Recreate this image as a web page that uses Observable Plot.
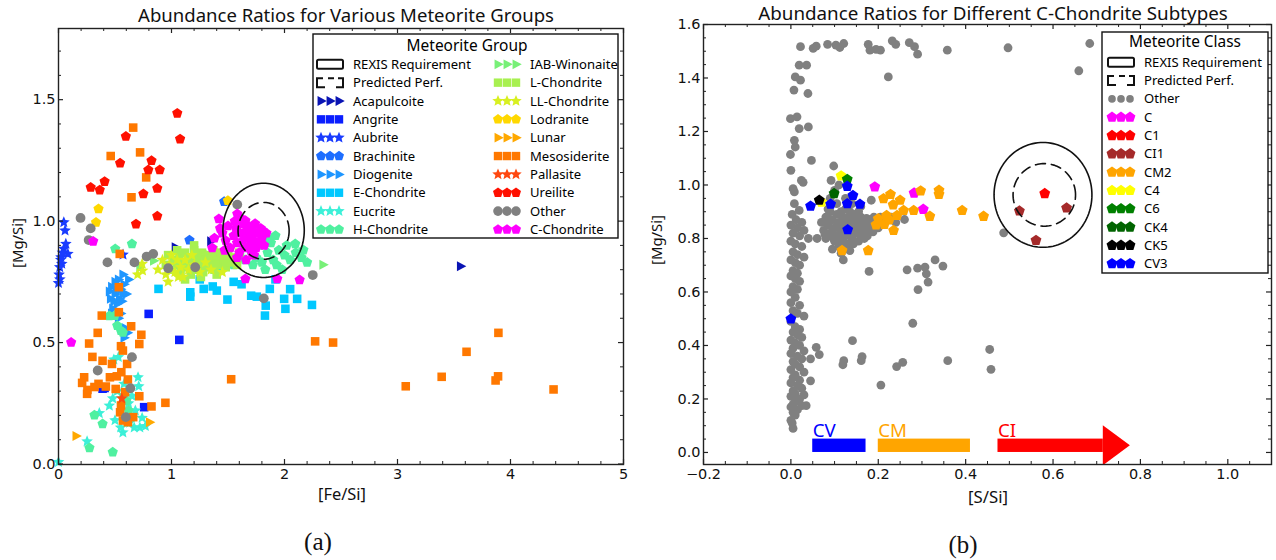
<!DOCTYPE html>
<html><head><meta charset="utf-8">
<script src="https://cdn.jsdelivr.net/npm/d3@7"></script>
<script src="https://cdn.jsdelivr.net/npm/@observablehq/plot@0.6"></script>
<style>
body{margin:0;background:#fff;}
#root{position:relative;width:1276px;height:560px;overflow:hidden;font-family:"Noto Sans",sans-serif;color:#111;}
.lbl{position:absolute;white-space:nowrap;transform:translate(-50%,-50%);line-height:1;}
.plot{position:absolute;top:0;}
#legend{position:absolute;left:0;top:0;pointer-events:none;}
</style></head><body><div id="root"></div>
<script>
const FONT = '"Noto Sans",sans-serif';
const TICKFONT = '"DejaVu Sans",sans-serif';

// ---------------- Panel (a) data: [Fe/Si, Mg/Si] ----------------
const acapulcoite = [[1.033,0.892],[1.347,0.917],[3.557,0.814]];
const angrite = [[0.798,0.618],[1.069,0.511],[0.408,0.313],[0.758,0.234],[0.39,0.31]];
const aubrite = [[0.047,0.995],[0.058,0.961],[0.065,0.906],[0.047,0.886],[0.083,0.865],[0.022,0.851],[0.029,0.824],[0.011,0.81],[0.005,0.78],[0.012,0.76],[0.0,0.745],[0.02,0.84],[0.035,0.87],[0.571,0.862]];
const brachinite = [[1.159,0.922],[1.466,1.080]];
const diogenite = [[0.46,0.68],[0.50,0.70],[0.55,0.72],[0.52,0.66],[0.58,0.74],[0.48,0.64],[0.55,0.62],[0.60,0.70],[0.50,0.75],[0.57,0.78],[0.62,0.76],[0.45,0.71],[0.53,0.60],[0.56,0.67],[0.59,0.56],[0.58,0.52],[0.61,0.54],[0.47,0.73],[0.54,0.68],[0.51,0.72],[0.49,0.67],[0.57,0.70],[0.53,0.76],[0.47,0.62]];
const eChondrite = [[0.885,0.721],[1.166,0.707],[1.166,0.689],[1.285,0.721],[1.365,0.731],[1.401,0.714],[1.495,0.677],[1.705,0.693],[1.755,0.689],[1.834,0.652],[1.827,0.611],[1.870,0.721],[1.997,0.680],[2.008,0.639],[2.112,0.680],[2.243,0.655],[1.55,0.75],[1.62,0.74],[1.92,0.76],[2.05,0.72],[1.25,0.76]];
const eucrite = [[0.45,0.24],[0.52,0.30],[0.57,0.27],[0.62,0.25],[0.68,0.22],[0.704,0.357],[0.71,0.32],[0.63,0.17],[0.67,0.15],[0.72,0.15],[0.769,0.156],[0.55,0.15],[0.60,0.19],[0.50,0.18],[0.361,0.209],[0.253,0.093],[0.0,0.008],[0.48,0.27],[0.58,0.33],[0.65,0.28],[0.74,0.19],[0.53,0.44],[0.49,0.43],[0.57,0.13]];
const hChondrite = [[0.552,0.549],[0.570,0.542],[0.498,0.611],[0.318,0.201],[0.390,0.165],[0.274,0.066],[0.480,0.049],[0.502,0.886],[0.650,0.906],[2.095,0.906],[2.167,0.881],[0.60,0.26],[0.62,0.22],[0.58,0.28],[0.45,0.61],[0.52,0.57],
  [1.60,0.86],[1.65,0.84],[1.70,0.88],[1.72,0.82],[1.75,0.85],[1.78,0.90],[1.80,0.83],[1.83,0.80],[1.85,0.87],[1.88,0.91],[1.90,0.84],[1.93,0.82],[1.95,0.88],[1.98,0.80],[2.00,0.86],[2.02,0.90],[2.05,0.84],[2.10,0.87],[2.15,0.85],[1.55,0.82],[1.48,0.84],[1.40,0.80],[1.30,0.86],[1.85,0.93],[1.92,0.94],[2.20,0.83]];
const iabWinonaite = [[0.841,0.837],[2.34,0.820],[0.72,0.81]];
const lChondrite = [[1.00,0.80],[1.02,0.84],[1.05,0.82],[1.07,0.86],[1.08,0.79],[1.10,0.83],[1.12,0.87],[1.13,0.81],[1.15,0.85],[1.17,0.78],[1.18,0.83],[1.20,0.88],[1.22,0.80],[1.23,0.85],[1.25,0.82],[1.27,0.87],[1.28,0.79],[1.30,0.84],[1.32,0.81],[1.33,0.86],[1.35,0.83],[1.37,0.88],[1.38,0.80],[1.40,0.85],[1.42,0.82],[1.44,0.87],[1.46,0.84],[1.48,0.81],[1.50,0.86],[1.52,0.83],[1.55,0.85],[1.58,0.82],[0.95,0.82],[0.97,0.86],[1.12,0.76],[1.26,0.77],[1.40,0.78],[1.60,0.87],[1.05,0.88],[1.20,0.90]];
const llChondrite = [[0.88,0.80],[0.92,0.84],[0.95,0.78],[0.98,0.82],[1.00,0.86],[1.03,0.79],[1.05,0.84],[1.08,0.81],[1.10,0.77],[1.12,0.84],[1.15,0.80],[1.18,0.86],[1.20,0.82],[1.25,0.79],[1.30,0.83],[0.740,0.824],[0.744,0.796],[0.70,0.78],[1.35,0.80],[1.45,0.79],[0.97,0.75],[1.06,0.77]];
const lodranite = [[0.354,1.050],[0.332,0.995],[1.499,1.084]];
const lunar = [[0.155,0.115],[0.805,0.172]];
const mesosiderite = [[0.661,1.385],[0.462,1.268],[0.722,1.283],[0.776,1.180],[0.646,1.098],[0.542,0.865],[0.534,0.728],[0.383,0.611],[0.534,0.625],[0.347,0.540],[0.271,0.496],[0.300,0.441],[0.390,0.425],[0.473,0.412],[0.643,0.567],[0.733,0.532],[0.715,0.494],[0.553,0.485],[0.570,0.467],[0.607,0.412],[0.227,0.357],[0.209,0.334],[0.256,0.305],[0.253,0.289],[0.318,0.317],[0.354,0.330],[0.419,0.319],[0.455,0.357],[0.516,0.361],[0.556,0.378],[0.614,0.348],[0.506,0.309],[0.589,0.296],[0.715,0.279],[0.553,0.241],[0.545,0.213],[0.570,0.179],[0.661,0.193],[0.614,0.172],[0.823,0.237],[0.946,0.252],[1.528,0.349],[2.271,0.505],[2.430,0.500],[3.073,0.320],[3.391,0.359],[3.611,0.462],[3.893,0.540],[3.890,0.361],[3.868,0.344],[4.381,0.307]];
const pallasite = [[0.56,0.27]];
const ureilite = [[1.051,1.444],[1.076,1.338],[0.596,1.349],[0.545,1.239],[0.408,1.163],[0.285,1.139],[0.365,1.128],[0.823,1.249],[0.795,1.211],[0.896,1.211],[0.874,1.135],[0.751,1.112],[0.686,0.988],[0.874,1.020]];
const otherA = [[0.195,1.013],[0.285,0.970],[0.267,0.922],[0.433,0.830],[0.672,0.830],[0.780,0.854],[0.838,0.865],[0.971,0.806],[1.210,0.810],[1.582,1.068],[2.250,0.778],[1.817,0.682],[0.650,0.440],[0.347,0.385],[0.636,0.312],[0.596,0.193]];
const cChondrite = [[1.419,1.009],[1.582,1.030],[1.654,1.002],[1.809,0.961],[0.307,0.917],[1.654,0.762],[1.936,0.762],[2.134,0.758],[0.112,0.501],[1.45,0.95],[1.48,0.92],[1.50,0.98],[1.52,0.89],[1.55,0.94],[1.57,0.97],[1.58,0.91],[1.60,0.87],[1.61,0.95],[1.62,0.99],[1.63,0.92],[1.65,0.89],[1.66,0.96],[1.67,0.93],[1.68,0.98],[1.69,0.90],[1.70,0.94],[1.71,0.87],[1.72,0.96],[1.73,0.92],[1.74,0.99],[1.75,0.89],[1.76,0.95],[1.78,0.91],[1.79,0.97],[1.80,0.93],[1.82,0.90],[1.84,0.95],[1.62,1.01],[1.56,1.00],[1.43,0.97],[1.47,0.88],[1.58,0.85],[1.66,0.84],[1.73,0.86],[1.38,0.93],[1.36,0.89]];

const groupNamesA = ["Acapulcoite","Angrite","Aubrite","Brachinite","Diogenite","E-Chondrite","Eucrite","H-Chondrite","IAB-Winonaite","L-Chondrite","LL-Chondrite","Lodranite","Lunar","Mesosiderite","Pallasite","Ureilite","Other","C-Chondrite"];
const groupDataA = [acapulcoite,angrite,aubrite,brachinite,diogenite,eChondrite,eucrite,hChondrite,iabWinonaite,lChondrite,llChondrite,lodranite,lunar,mesosiderite,pallasite,ureilite,otherA,cChondrite];
const groupColorsA = ["#0a14b4","#0a1eff","#1a3cff","#1e6eff","#1e96ff","#00c8ff","#3cf0d8","#50f0a0","#78f078","#a8f050","#d8f020","#ffd800","#ffa800","#ff7800","#ff4810","#ff1000","#808080","#ff00ff"];
const groupShapesA = ["tri","square","star","pent","tri","square","star","pent","tri","square","star","pent","tri","square","star","pent","circle","pent"];

// ---------------- Panel (b) data: [S/Si, Mg/Si] ----------------
const otherB = [[0.022,1.517],[0.051,1.511],[0.058,1.519],[0.084,1.526],[0.103,1.523],[0.112,1.514],[0.121,1.529],[0.177,1.526],[0.181,1.504],[0.195,1.507],[0.205,1.504],[0.232,1.539],[0.240,1.526],[0.271,1.532],[0.283,1.517],[0.290,1.489],[0.358,1.504],[0.497,1.513],[0.684,1.529],[0.659,1.427],[0.223,1.404],
  [0.022,1.392],[0.010,1.404],[0.019,1.448],[0.036,1.448],[0.007,1.355],[0.039,1.342],[-0.001,1.248],[0.014,1.255],[0.019,1.211],[0.040,1.217],[0.008,1.167],[0.010,1.142],[-0.001,1.114],[0.047,1.092],[0.0,1.055],[0.024,1.017],[0.028,1.010],[0.005,0.986],[0.008,0.974],[0.008,0.930],[0.019,0.905],[0.003,0.89],[0.012,0.87],[0.025,0.86],[0.0,0.85],[0.015,0.84],[0.03,0.83],[0.005,0.82],[0.02,0.81],[0.04,0.80],[0.06,0.80],[0.0,0.79],[0.01,0.78],[0.025,0.77],[0.005,0.75],[0.015,0.74],[0.03,0.73],[0.0,0.72],[0.01,0.71],[0.02,0.70],[0.005,0.68],[0.015,0.67],[0.0,0.66],[0.01,0.65],[0.02,0.64],[0.005,0.62],[0.015,0.61],[0.0,0.60],
  [0.01,0.58],[0.0,0.56],[0.02,0.55],[0.005,0.53],[0.015,0.52],[0.03,0.51],[0.0,0.49],[0.01,0.47],[0.02,0.46],[0.005,0.45],[0.015,0.44],[0.025,0.43],[0.0,0.42],[0.01,0.41],[0.02,0.40],[0.005,0.39],[0.03,0.38],[0.0,0.37],[0.015,0.36],[0.025,0.35],[0.005,0.34],[0.01,0.33],[0.02,0.32],[0.0,0.31],[0.03,0.30],[0.01,0.29],[0.005,0.28],[0.02,0.27],[0.0,0.26],[0.015,0.25],[0.025,0.24],[0.005,0.23],[0.01,0.22],[0.03,0.215],[0.0,0.21],[0.02,0.20],[0.01,0.19],[0.005,0.18],[0.025,0.175],[0.035,0.175],[0.0,0.17],[0.015,0.16],[0.005,0.15],[0.01,0.14],[0.0,0.12],[0.003,0.11],[0.005,0.09],
  [0.07,0.86],[0.075,0.83],[0.08,0.88],[0.08,0.80],[0.085,0.85],[0.09,0.82],[0.09,0.90],[0.095,0.87],[0.1,0.84],[0.1,0.79],[0.105,0.81],[0.105,0.89],[0.11,0.86],[0.11,0.77],[0.115,0.83],[0.12,0.80],[0.12,0.88],[0.125,0.85],[0.125,0.91],[0.13,0.82],[0.13,0.78],[0.135,0.87],[0.14,0.84],[0.14,0.80],[0.145,0.89],[0.15,0.86],[0.15,0.82],[0.155,0.79],[0.16,0.85],[0.16,0.88],[0.165,0.83],[0.17,0.86],[0.175,0.81],[0.18,0.87],[0.185,0.84],[0.19,0.88],[0.195,0.85],[0.2,0.87],[0.21,0.86],[0.095,0.76],[0.115,0.745],[0.135,0.755],[0.12,0.72],[0.085,0.91],[0.105,0.93],[0.125,0.95],[0.09,0.95],[0.1,0.98],[0.11,1.0],[0.14,0.93],[0.16,0.92],[0.23,0.88],[0.24,0.86],[0.092,1.017],[0.098,1.071],
  [0.078,0.815],[0.088,0.865],[0.097,0.835],[0.107,0.855],[0.113,0.805],[0.118,0.865],[0.123,0.825],[0.128,0.875],[0.133,0.845],[0.138,0.805],[0.143,0.865],[0.147,0.835],[0.153,0.875],[0.158,0.815],[0.163,0.865],[0.168,0.845],[0.173,0.875],[0.178,0.835],[0.183,0.855],[0.188,0.825],[0.108,0.785],[0.123,0.775],[0.143,0.78],[0.115,0.9],[0.135,0.9],[0.155,0.9],[0.098,0.8],[0.168,0.8],[0.2,0.84],[0.205,0.88],
  [0.291,0.609],[0.314,0.637],[0.279,0.483],[0.058,0.393],[0.065,0.366],[0.045,0.350],[0.141,0.418],[0.121,0.343],[0.119,0.328],[0.163,0.358],[0.161,0.343],[0.242,0.321],[0.256,0.337],[0.206,0.252],[0.359,0.343],[0.455,0.385],[0.458,0.311],[0.045,0.268],
  [0.330,0.720],[0.307,0.693],[0.310,0.668],[0.290,0.689],[0.266,0.683],[0.348,0.697],[0.179,0.677],[0.260,0.871],[0.184,0.943],[0.487,0.821]];
const classC = [[0.192,0.993],[0.282,0.970],[0.303,0.909]];
const classC1 = [[0.581,0.968]];
const classCI1 = [[0.523,0.903],[0.631,0.914],[0.561,0.793]];
const classCM2 = [[0.117,0.755],[0.177,0.755],[0.195,0.851],[0.200,0.874],[0.212,0.949],[0.228,0.965],[0.219,0.886],[0.234,0.926],[0.235,0.830],[0.243,0.886],[0.250,0.943],[0.258,0.905],[0.281,0.905],[0.297,0.978],[0.318,0.883],[0.339,0.980],[0.339,0.965],[0.392,0.905],[0.441,0.883],[0.214,0.853],[0.225,0.870]];
const classC4 = [[0.115,1.034],[0.070,0.936]];
const classC6 = [[0.129,1.021]];
const classCK4 = [[0.099,0.968]];
const classCK5 = [[0.065,0.943]];
const classCV3 = [[0.045,0.921],[0.091,0.928],[0.129,0.995],[0.142,0.961],[0.129,0.930],[0.158,0.928],[0.130,0.833],[0.0,0.499]];

const classNamesB = ["Other","C","C1","CI1","CM2","C4","C6","CK4","CK5","CV3"];
const classDataB = [otherB,classC,classC1,classCI1,classCM2,classC4,classC6,classCK4,classCK5,classCV3];
const classColorsB = ["#808080","#ff00ff","#ff0000","#a52a2a","#ffa500","#ffff00","#008000","#006400","#000000","#0000ff"];

// REXIS ellipses (center, semi-axes in data units)
const ellipseNames = ["REXIS Requirement","Predicted Perf."];
const ellipseCenterA = [[1.815,0.962],[1.815,0.960]];
const ellipseRadiiA = [[0.360,0.194],[0.226,0.117]];
const ellipseCenterB = [[0.577,0.963],[0.580,0.963]];
const ellipseRadiiB = [[0.112,0.196],[0.0715,0.117]];

// Subtype S/Si ranges (panel b annotation)
const rangeNames = ["CV","CM","CI"];
const rangeStart = [0.05,0.20,0.474];
const rangeEnd = [0.172,0.411,0.715];
const rangeColors = ["#0000ff","#ffa500","#ff0000"];
const arrowTipCI = 0.777;

// Axis ticks
const xTicksA = [0,1,2,3,4,5];
const yTicksA = [0,0.5,1.0,1.5];
const xTicksB = [-0.2,0,0.2,0.4,0.6,0.8,1.0];
const yTicksB = [0,0.2,0.4,0.6,0.8,1.0,1.2,1.4,1.6];

// ---------------- font fitting ----------------
const mctx = document.createElement("canvas").getContext("2d");
function fitSize(text, target, family){ mctx.font = `100px ${family}`; return 100*target/mctx.measureText(text).width; }
const tickSize = fitSize("0.0", 23, TICKFONT);
const legendSize = fitSize("REXIS Requirement", 118, FONT);

// ---------------- symbols ----------------
const rOf = s => Math.sqrt(s/Math.PI);
const SYM = {
  tri: {draw(c,s){const r=rOf(s)*1.2; c.moveTo(r,0); c.lineTo(-r*0.6,-r*0.85); c.lineTo(-r*0.6,r*0.85); c.closePath();}},
  square: {draw(c,s){const a=rOf(s)*1.75; c.rect(-a/2,-a/2,a,a);}},
  star: {draw(c,s){const R=rOf(s)*1.25, ri=R*0.45; for(let k=0;k<10;k++){const ang=-Math.PI/2+k*Math.PI/5, rr=k%2?ri:R; const x=rr*Math.cos(ang), y=rr*Math.sin(ang); k?c.lineTo(x,y):c.moveTo(x,y);} c.closePath();}},
  pent: {draw(c,s){const R=rOf(s)*1.1; for(let k=0;k<5;k++){const ang=-Math.PI/2+k*2*Math.PI/5; const x=R*Math.cos(ang), y=R*Math.sin(ang); k?c.lineTo(x,y):c.moveTo(x,y);} c.closePath();}},
  circle: {draw(c,s){const r=rOf(s); c.moveTo(r,0); c.arc(0,0,r,0,2*Math.PI);}}
};

function ellipsePts(center, radii){
  return d3.range(0,361,3).map(a=>({x:center[0]+radii[0]*Math.cos(a*Math.PI/180), y:center[1]+radii[1]*Math.sin(a*Math.PI/180)}));
}
const frameTicks = (xs, ys, fw, fh, majorX, majorY) => [
  Plot.tickX(xs, {x:d=>d, stroke:"#222", strokeWidth:1, insetTop: fh-3}),
  Plot.tickX(xs, {x:d=>d, stroke:"#222", strokeWidth:1, insetBottom: fh-3}),
  Plot.tickX(majorX, {x:d=>d, stroke:"#222", strokeWidth:1.2, insetTop: fh-5}),
  Plot.tickX(majorX, {x:d=>d, stroke:"#222", strokeWidth:1.2, insetBottom: fh-5}),
  Plot.tickY(ys, {y:d=>d, stroke:"#222", strokeWidth:1, insetRight: fw-3}),
  Plot.tickY(ys, {y:d=>d, stroke:"#222", strokeWidth:1, insetLeft: fw-3}),
  Plot.tickY(majorY, {y:d=>d, stroke:"#222", strokeWidth:1.2, insetRight: fw-5}),
  Plot.tickY(majorY, {y:d=>d, stroke:"#222", strokeWidth:1.2, insetLeft: fw-5})
];

const root = document.getElementById("root");

// ---------------- Panel (a) ----------------
{
  const W=640,H=500,mL=58,mR=17,mT=28,mB=36;
  const fw=W-mL-mR, fh=H-mT-mB;
  const marks = [];
  groupDataA.forEach((pts,i)=>{
    marks.push(Plot.dot(pts.map(p=>({x:p[0],y:p[1],g:groupNamesA[i]})), {x:"x",y:"y",r:4.9,fill:groupColorsA[i],symbol:SYM[groupShapesA[i]]}));
  });
  ellipseNames.forEach((n,i)=>{
    marks.push(Plot.line(ellipsePts(ellipseCenterA[i],ellipseRadiiA[i]), {x:"x",y:"y",stroke:"#111",strokeWidth:1.6,strokeDasharray:i?"10,6":null}));
  });
  const xMinor = d3.range(0,5.001,0.2).filter(v=>Math.abs(v-Math.round(v))>1e-6);
  const yMinor = d3.range(0,1.79,0.1).filter(v=>Math.abs(v*2-Math.round(v*2))>1e-6);
  marks.push(...frameTicks(xMinor,yMinor,fw,fh,xTicksA,yTicksA));
  marks.push(Plot.frame({stroke:"#222",strokeWidth:1.4}));
  marks.push(Plot.axisX({ticks:xTicksA,tickSize:0,tickPadding:4,tickFormat:d=>String(d),label:null,fontSize:tickSize,fontFamily:TICKFONT}));
  marks.push(Plot.axisY({ticks:yTicksA,tickSize:0,tickPadding:3,tickFormat:d=>d.toFixed(1),label:null,fontSize:tickSize,fontFamily:TICKFONT}));
  const svg = Plot.plot({width:W,height:H,marginLeft:mL,marginRight:mR,marginTop:mT,marginBottom:mB,
    x:{domain:[0,5],label:null}, y:{domain:[-0.002,1.793],label:null},
    style:{fontFamily:TICKFONT,fontSize:tickSize+"px",color:"#111",background:"transparent",overflow:"visible"},
    marks});
  svg.classList.add("plot"); svg.style.left="0px";
  root.appendChild(svg);
}

// ---------------- Panel (b) ----------------
{
  const W=636,H=500,mL=63,mR=5,mT=24,mB=36;
  const fw=W-mL-mR, fh=H-mT-mB;
  const marks = [];
  classDataB.forEach((pts,i)=>{
    marks.push(Plot.dot(pts.map(p=>({x:p[0],y:p[1],c:classNamesB[i]})), {x:"x",y:"y",r:i?5.2:4.4,fill:classColorsB[i],symbol:i?SYM.pent:SYM.circle}));
  });
  ellipseNames.forEach((n,i)=>{
    marks.push(Plot.line(ellipsePts(ellipseCenterB[i],ellipseRadiiB[i]), {x:"x",y:"y",stroke:"#111",strokeWidth:1.6,strokeDasharray:i?"10,6":null}));
  });
  const ranges = rangeNames.map((n,i)=>({name:n,x1:rangeStart[i],x2:rangeEnd[i],y1:0,y2:0.05,color:rangeColors[i]}));
  marks.push(Plot.rect(ranges,{x1:"x1",x2:"x2",y1:"y1",y2:"y2",fill:"color"}));
  const head = [{x:rangeEnd[2],y1:-0.05,y2:0.10},{x:arrowTipCI,y1:0.025,y2:0.025}];
  marks.push(Plot.areaY(head,{x:"x",y1:"y1",y2:"y2",fill:rangeColors[2],clip:true}));
  marks.push(Plot.text(ranges,{x:"x1",y:0.058,text:"name",fill:"color",textAnchor:"start",lineAnchor:"bottom",fontSize:fitSize("CV",23,FONT),fontFamily:FONT}));
  const xMinor = d3.range(-0.2,1.1001,0.05).filter(v=>Math.abs(v*5-Math.round(v*5))>1e-6);
  const yMinor = d3.range(-0.05,1.6001,0.05).filter(v=>v>-0.045 && Math.abs(v*5-Math.round(v*5))>1e-6);
  marks.push(...frameTicks(xMinor,yMinor,fw,fh,xTicksB,yTicksB));
  marks.push(Plot.frame({stroke:"#222",strokeWidth:1.4}));
  marks.push(Plot.axisX({ticks:xTicksB,tickSize:0,tickPadding:4,tickFormat:d3.format(".1f"),label:null,fontSize:tickSize,fontFamily:TICKFONT}));
  marks.push(Plot.axisY({ticks:yTicksB,tickSize:0,tickPadding:3,tickFormat:d3.format(".1f"),label:null,fontSize:tickSize,fontFamily:TICKFONT}));
  const svg = Plot.plot({width:W,height:H,marginLeft:mL,marginRight:mR,marginTop:mT,marginBottom:mB,
    x:{domain:[-0.2,1.1],label:null}, y:{domain:[-0.045,1.6],label:null},
    style:{fontFamily:TICKFONT,fontSize:tickSize+"px",color:"#111",background:"transparent",overflow:"visible"},
    marks});
  svg.classList.add("plot"); svg.style.left="640px";
  root.appendChild(svg);
}

// ---------------- Text labels ----------------
function label(text,x,y,target,opts={}){
  const fam = opts.serif ? '"Liberation Serif","DejaVu Serif",serif' : FONT;
  const d=document.createElement("div"); d.className="lbl"; d.textContent=text;
  d.style.left=x+"px"; d.style.top=y+"px";
  d.style.fontFamily=fam;
  d.style.fontSize=fitSize(text,target,fam)+"px";
  if(opts.rotate) d.style.transform="translate(-50%,-50%) rotate(-90deg)";
  root.appendChild(d);
}
label("Abundance Ratios for Various Meteorite Groups",346,15,416);
label("Abundance Ratios for Different C-Chondrite Subtypes",993,13,470);
label("[Fe/Si]",342,494,48);
label("[S/Si]",988,497,40);
label("[Mg/Si]",17,243,50,{rotate:true});
label("[Mg/Si]",656,240,50,{rotate:true});
label("(a)",318,542,28,{serif:true});
label("(b)",963,545,29,{serif:true});

// ---------------- Legends ----------------
const lg = d3.select(root).append("svg").attr("id","legend").attr("width",1276).attr("height",560)
  .style("font-family",FONT);
function symPath(sym,r){const p=d3.path(); sym.draw(p,r*r*Math.PI); return p.toString();}
function ellipseIcons(g,x,y0,dy){
  g.append("rect").attr("x",x).attr("y",y0-4.5).attr("width",26).attr("height",9).attr("rx",1.5)
    .attr("fill","none").attr("stroke","#111").attr("stroke-width",2);
  g.append("path").attr("d",`M${x+6},${y0-4.5}H${x}V${y0+4.5}H${x+8} M${x+11},${y0-4.5}H${x+17} M${x+19},${y0+4.5}H${x+26}V${y0-4.5}H${x+21}`)
    .attr("transform",`translate(0,${dy})`).attr("fill","none").attr("stroke","#111").attr("stroke-width",2);
  g.append("text").attr("x",x+36).attr("y",y0).attr("dy","0.35em").attr("font-size",legendSize).text(ellipseNames[0]);
  g.append("text").attr("x",x+36).attr("y",y0+dy).attr("dy","0.35em").attr("font-size",legendSize).text(ellipseNames[1]);
}
function legendRow(g,x,y,sym,color,r,text){
  [4,13,22].forEach(o=>g.append("path").attr("d",symPath(sym,r)).attr("transform",`translate(${x+o},${y})`).attr("fill",color));
  g.append("text").attr("x",x+36).attr("y",y).attr("dy","0.35em").attr("font-size",legendSize).text(text);
}
{
  const g = lg.append("g");
  g.append("rect").attr("x",313).attr("y",34).attr("width",305).attr("height",204).attr("fill","#fff").attr("stroke","#111").attr("stroke-width",1.4);
  g.append("text").attr("x",467).attr("y",46).attr("dy","0.35em").attr("text-anchor","middle").attr("font-size",fitSize("Meteorite Group",121,FONT)).text("Meteorite Group");
  const dy=18.35, y0=64.3;
  ellipseIcons(g,317,y0,dy);
  groupNamesA.forEach((n,i)=>{
    const slot=i+2, col=slot<10?0:1, row=slot%10;
    legendRow(g,col?494:317,y0+row*dy,SYM[groupShapesA[i]],groupColorsA[i],4.8,n);
  });
}
{
  const g = lg.append("g");
  g.append("rect").attr("x",1102).attr("y",32).attr("width",166).attr("height",241).attr("fill","#fff").attr("stroke","#111").attr("stroke-width",1.4);
  g.append("text").attr("x",1185).attr("y",42).attr("dy","0.35em").attr("text-anchor","middle").attr("font-size",fitSize("Meteorite Class",112,FONT)).text("Meteorite Class");
  const dy=18.3, y0=62.3;
  ellipseIcons(g,1108,y0,dy);
  classNamesB.forEach((n,i)=>{
    legendRow(g,1108,y0+(i+2)*dy,i?SYM.pent:SYM.circle,classColorsB[i],i?5.2:3.8,n);
  });
}
</script></body></html>
